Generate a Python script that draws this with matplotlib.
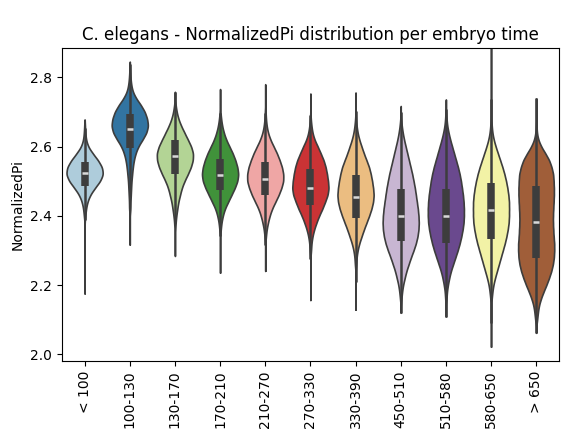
import colorsys
import numpy as np
import matplotlib
matplotlib.use("Agg")
import matplotlib.pyplot as plt

groups = ["< 100", "100-130", "130-170", "170-210", "210-270", "270-330",
          "330-390", "450-510", "510-580", "580-650", "> 650"]
colors = ["#a6cee3", "#1f78b4", "#b2df8a", "#33a02c", "#fb9a99", "#e31a1c",
          "#fdbf6f", "#cab2d6", "#6a3d9a", "#ffff99", "#b15928"]

# histogram: lowest bin centre, bin step 0.02, relative counts
bin_lo = [2.40, 2.42, 2.36, 2.36, 2.34, 2.30, 2.26, 2.16, 2.16, 2.16, 2.10]
counts = [
    [2, 4, 8, 16, 30, 46, 55, 52, 40, 24, 10, 4, 2, 1],
    [2, 2, 3, 4, 5, 7, 9, 12, 17, 25, 38, 50, 55, 52, 45, 33, 18, 8, 4, 2, 1],
    [1, 2, 4, 7, 10, 15, 20, 28, 38, 47, 53, 54, 48, 38, 28, 18, 10, 5, 2],
    [2, 4, 8, 14, 24, 34, 44, 52, 55, 52, 46, 38, 28, 18, 11, 6, 3, 1],
    [2, 4, 8, 13, 20, 30, 40, 48, 54, 54, 50, 43, 35, 25, 15, 8, 4, 2, 1],
    [2, 3, 6, 11, 18, 26, 36, 44, 52, 55, 53, 50, 46, 40, 31, 22, 12, 6, 3, 1],
    [2, 3, 6, 11, 18, 25, 33, 41, 48, 53, 55, 53, 50, 46, 41, 33, 25, 18, 11, 6, 3, 1],
    [2, 4, 7, 12, 17, 24, 31, 39, 46, 51, 54, 55, 54, 52, 49, 46, 43, 39, 35, 30,
     25, 20, 15, 10, 6, 3, 1],
    [2, 3, 6, 10, 15, 22, 29, 36, 42, 47, 51, 54, 55, 55, 54, 52, 49, 46, 42, 37,
     31, 25, 19, 13, 8, 4, 2, 1],
    [2, 4, 7, 12, 18, 24, 30, 36, 42, 47, 51, 54, 55, 55, 55, 53, 50, 46, 41, 35,
     28, 21, 14, 8, 4, 2, 1, 1],
    [3, 5, 8, 14, 22, 31, 39, 46, 51, 54, 55, 55, 53, 52, 51, 51, 52, 53, 54, 54,
     53, 52, 47, 40, 28, 15, 6, 2, 1],
]

data_min = [2.176, 2.317, 2.284, 2.236, 2.241, 2.157, 2.129, 2.120, 2.109, 2.022, 2.062]
data_max = [2.678, 2.845, 2.758, 2.766, 2.780, 2.753, 2.756, 2.717, 2.736, 2.900, 2.739]
q1 = [2.487, 2.597, 2.522, 2.474, 2.459, 2.430, 2.394, 2.328, 2.322, 2.333, 2.279]
med = [2.524, 2.651, 2.572, 2.518, 2.507, 2.481, 2.455, 2.400, 2.399, 2.416, 2.383]
q3 = [2.554, 2.693, 2.618, 2.563, 2.554, 2.534, 2.517, 2.477, 2.477, 2.495, 2.487]


def desaturate(c, prop=0.75):
    r, g, b = matplotlib.colors.to_rgb(c)
    h, l, s = colorsys.rgb_to_hls(r, g, b)
    return colorsys.hls_to_rgb(h, l, s * prop)


line_col = "#3d3d3d"
bw = 0.012

fig = plt.figure(figsize=(5.69, 4.38), dpi=100)
ax = fig.add_axes([0.109, 0.176, 0.873, 0.714])

for i, name in enumerate(groups):
    c = np.array(counts[i], dtype=float)
    centres = bin_lo[i] + 0.02 * np.arange(len(c))
    y = np.linspace(data_min[i], data_max[i], 500)
    dens = (c[None, :] * np.exp(-0.5 * ((y[:, None] - centres[None, :]) / bw) ** 2)).sum(axis=1)
    w = 0.4 * dens / dens.max()
    ax.fill_betweenx(y, i - w, i + w, facecolor=desaturate(colors[i]),
                     edgecolor=line_col, linewidth=1.2, zorder=1)

    iqr = q3[i] - q1[i]
    lo = max(data_min[i], q1[i] - 1.5 * iqr)
    hi = min(data_max[i], q3[i] + 1.5 * iqr)
    ax.plot([i, i], [lo, hi], color=line_col, lw=1.8, solid_capstyle="butt", zorder=2)
    ax.plot([i, i], [q1[i], q3[i]], color=line_col, lw=5.4, solid_capstyle="butt", zorder=3)
    ax.plot([i], [med[i]], marker="_", color="0.85", markersize=4.5,
            markeredgewidth=1.8, zorder=4)

ax.set_xlim(-0.5, len(groups) - 0.5)
ax.set_ylim(1.981, 2.884)
ax.set_xticks(range(len(groups)))
ax.set_xticklabels(groups, rotation=90)
ax.set_yticks([2.0, 2.2, 2.4, 2.6, 2.8])
ax.set_ylabel("NormalizedPi")
ax.set_title("C. elegans - NormalizedPi distribution per embryo time")

fig.savefig("out.png", dpi=100)
